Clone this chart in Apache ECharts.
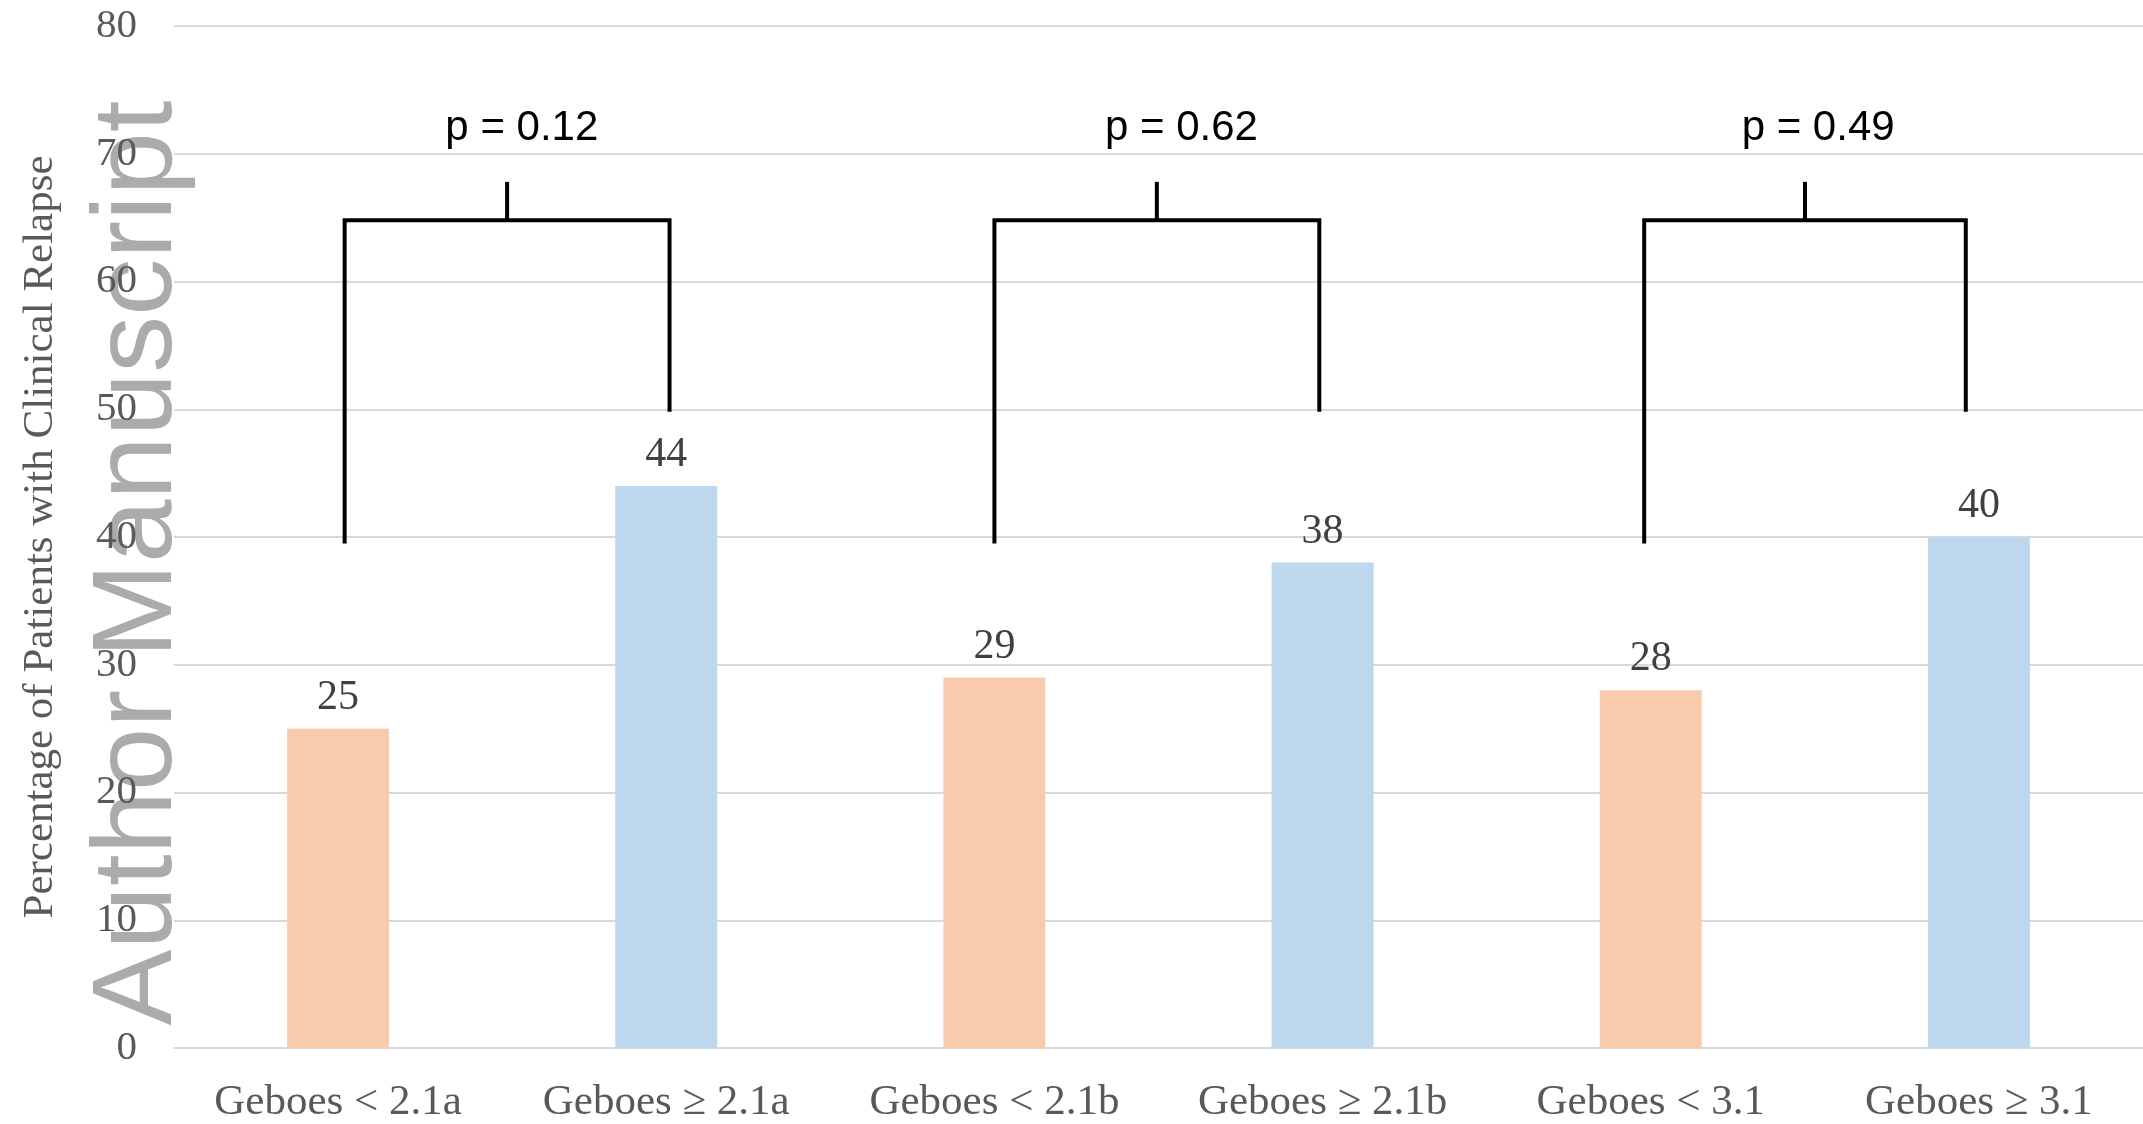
<!DOCTYPE html>
<html>
<head>
<meta charset="utf-8">
<script src="https://cdn.jsdelivr.net/npm/echarts@6/dist/echarts.min.js"></script>
<style>
html,body{margin:0;padding:0;background:#fff;}
#chart{width:2143px;height:1124px;}
</style>
</head>
<body>
<div id="chart"></div>
<script>
// ---- data ----
const categories = ['Geboes < 2.1a', 'Geboes \u2265 2.1a', 'Geboes < 2.1b', 'Geboes \u2265 2.1b', 'Geboes < 3.1', 'Geboes \u2265 3.1'];
const relapsePct = [25, 44, 29, 38, 28, 40];
const groupColors = ['#F8CBAD', '#BDD7EE', '#F8CBAD', '#BDD7EE', '#F8CBAD', '#BDD7EE'];
const yTicks = [0, 10, 20, 30, 40, 50, 60, 70, 80];
const pLabels = ['p = 0.12', 'p = 0.62', 'p = 0.49'];
// bracket annotation geometry in axis units (category position, value)
const bracketLeftX = [0.02, 2.00, 3.98];
const bracketRightX = [1.01, 2.99, 4.96];
const bracketLeftBottom = [39.5, 39.5, 39.5];
const bracketRightBottom = [49.8, 49.8, 49.8];
const bracketHeight = [64.8, 64.8, 64.8];
const bracketTickTop = [67.8, 67.8, 67.8];
const pLabelX = [0.56, 2.57, 4.51];
const pLabelY = [72.0, 72.0, 72.0];

const bracketData = pLabels.map((p, i) => [
  bracketLeftX[i], bracketRightX[i], pLabelX[i],
  bracketLeftBottom[i], bracketRightBottom[i], bracketHeight[i], bracketTickTop[i], pLabelY[i]
]);

const chart = echarts.init(document.getElementById('chart'), null, {renderer: 'canvas'});

function renderBracket(params, api) {
  const l = api.value(0), r = api.value(1), tx = api.value(2);
  const lb = api.value(3), rb = api.value(4), h = api.value(5), tt = api.value(6), ty = api.value(7);
  const mid = (l + r) / 2;
  const pL = api.coord([l, lb]), pLT = api.coord([l, h]);
  const pRT = api.coord([r, h]), pR = api.coord([r, rb]);
  const pM = api.coord([mid, h]), pMT = api.coord([mid, tt]);
  const pT = api.coord([tx, ty]);
  return {
    type: 'group',
    children: [
      {type: 'polyline', shape: {points: [pL, pLT, pRT, pR]},
        style: {stroke: '#000', lineWidth: 4, fill: null, lineJoin: 'miter'}},
      {type: 'line', shape: {x1: pM[0], y1: pM[1], x2: pMT[0], y2: pMT[1]},
        style: {stroke: '#000', lineWidth: 4}},
      {type: 'text', x: pT[0], y: pT[1],
        style: {text: pLabels[params.dataIndex], font: '42px "Liberation Sans"', fill: '#000',
          align: 'center', verticalAlign: 'middle'}}
    ]
  };
}

const option = {
  backgroundColor: '#ffffff',
  animation: false,
  grid: {left: 174, right: 0, top: 26, bottom: 75, containLabel: false},
  xAxis: [
    {
      type: 'category',
      data: categories,
      boundaryGap: true,
      axisLine: {show: true, lineStyle: {color: '#d9d9d9', width: 2}},
      axisTick: {show: false},
      axisLabel: {
        interval: 0, margin: 33, color: '#595959',
        fontFamily: '"Liberation Serif", "Times New Roman", serif', fontSize: 43
      }
    },
    {
      type: 'value', min: -0.5, max: 5.5, show: false
    }
  ],
  yAxis: {
    type: 'value',
    min: yTicks[0], max: yTicks[yTicks.length - 1], interval: 10,
    name: 'Percentage of Patients with Clinical Relapse',
    nameLocation: 'middle',
    nameGap: 112,
    nameTextStyle: {color: '#595959', fontFamily: '"Liberation Serif", "Times New Roman", serif', fontSize: 43},
    axisLine: {show: false},
    axisTick: {show: false},
    axisLabel: {
      margin: 37, color: '#595959',
      fontFamily: '"Liberation Serif", "Times New Roman", serif', fontSize: 41
    },
    splitLine: {show: true, lineStyle: {color: '#d9d9d9', width: 2}}
  },
  graphic: [
    {
      type: 'text',
      x: 140, y: 563,
      rotation: Math.PI / 2,
      z: -10,
      silent: true,
      style: {
        text: 'Author Manuscript',
        font: '114px "Liberation Sans", Arial, sans-serif',
        fill: '#ababab',
        align: 'center',
        verticalAlign: 'middle'
      }
    }
  ],
  series: [
    {
      type: 'bar',
      xAxisIndex: 0,
      barWidth: 102,
      data: relapsePct.map((v, i) => ({value: v, itemStyle: {color: groupColors[i]}})),
      label: {
        show: true, position: 'top', distance: 10,
        color: '#404040', fontFamily: '"Liberation Serif", "Times New Roman", serif', fontSize: 42
      },
      z: 2
    },
    {
      type: 'custom',
      xAxisIndex: 1,
      yAxisIndex: 0,
      clip: false,
      renderItem: renderBracket,
      data: bracketData,
      z: 5
    }
  ]
};
chart.setOption(option);
</script>
</body>
</html>
